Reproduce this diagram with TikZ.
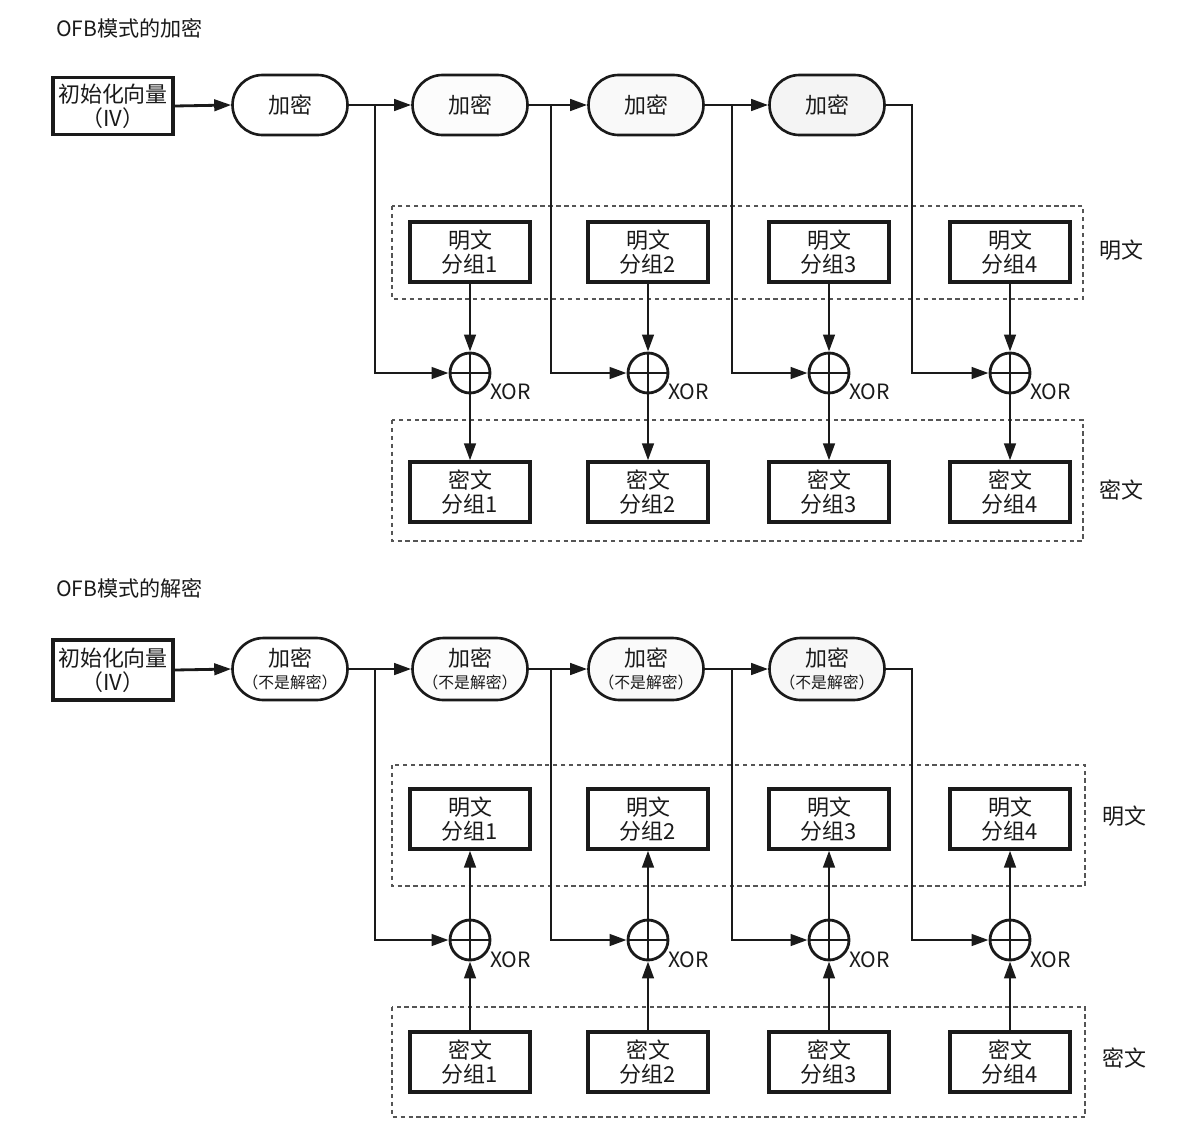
\documentclass[tikz,border=0pt]{standalone}
\usepackage{fontspec}
\setmainfont{Noto Sans CJK SC}
\usetikzlibrary{positioning,arrows.meta,shapes.misc}
\definecolor{ofbink}{HTML}{1A1A1A}
\definecolor{ofbdash}{HTML}{555555}

\begin{document}
\begin{tikzpicture}[x=0.02cm,y=-0.02cm,
  blk/.style={draw=ofbink,line width=1.8pt,fill=white,minimum width=2.4cm,minimum height=1.2cm,inner sep=0pt,align=center,font=\fontsize{12.5}{13.5}\selectfont,text=ofbink},
  enc/.style={rounded rectangle,draw=ofbink,line width=1.5pt,minimum width=2.3cm,minimum height=1.2cm,inner sep=0pt,align=center,font=\fontsize{12.5}{13.5}\selectfont,text=ofbink},
  xorc/.style={circle,draw=ofbink,line width=1.6pt,fill=white,minimum size=0.8cm,inner sep=0pt,path picture={\draw[line width=1.6pt,ofbink] (path picture bounding box.north) -- (path picture bounding box.south) (path picture bounding box.west) -- (path picture bounding box.east);}},
  wire/.style={draw=ofbink,line width=1.6pt},
  arr/.style={wire,-{Triangle[length=3.4mm,width=2.3mm]}},
  grp/.style={draw=ofbdash,line width=0.7pt,dash pattern=on 2.5pt off 2pt},
  lbl/.style={font=\fontsize{12.5}{13.5}\selectfont,text=ofbink},
  xlbl/.style={font=\fontsize{12}{13}\selectfont,text=ofbink,anchor=west},
  ttl/.style={font=\fontsize{12}{13}\selectfont,anchor=west,text=ofbink}
]
\useasboundingbox (0,0) rectangle (1195,1139);

\node[ttl] (etitle) at (50,28) {OFB模式的加密};
\draw[grp] (392,206) rectangle (1083,299);
\draw[grp] (392,420) rectangle (1083,541);
\node[lbl] (eplab) at (1121,250) {明文};
\node[lbl] (eclab) at (1121,490) {密文};
\node[blk,minimum height=1.14cm] (eiv) at (113,106) {初始化向量\\（IV）};
\foreach \i/\x/\px/\shade in {1/290/470/0,2/470/648/2,3/646/829/5,4/827/1010/9} {
  \node[enc,fill=gray!\shade] (eenc\i) at (\x,105) {加密};
  \node[blk] (ept\i) at (\px,252) {明文\\分组\i};
  \node[xorc] (exor\i) at (\px,373) {};
  \node[xlbl] at (\px+14,392) {XOR};
  \node[blk] (ect\i) at (\px,492) {密文\\分组\i};
  \draw[arr] (ept\i.south) -- (exor\i.north);
  \draw[arr] (exor\i.south) -- (ect\i.north);
}
\draw[arr] (eiv.east) -- (eenc1.west);
\foreach \i/\j/\bx in {1/2/375,2/3/551,3/4/732} {
  \coordinate (ebr\i) at (\bx,105);
  \draw[arr] (eenc\i.east) -- (eenc\j.west);
  \draw[arr] (ebr\i) |- (exor\i.west);
}
\coordinate (ebr4) at (912,105);
\draw[arr] (eenc4.east) -- (ebr4) |- (exor4.west);

\node[ttl] (dtitle) at (50,588) {OFB模式的解密};
\draw[grp] (392,765) rectangle (1085,886);
\draw[grp] (392,1007) rectangle (1085,1117);
\node[lbl] (dplab) at (1124,816) {明文};
\node[lbl] (dclab) at (1124,1058) {密文};
\node[blk] (div) at (113,670) {初始化向量\\（IV）};
\foreach \i/\x/\px/\shade in {1/290/470/0,2/470/648/2,3/646/829/4,4/827/1010/6} {
  \node[enc,fill=gray!\shade,minimum height=1.24cm] (denc\i) at (\x,669) {加密\\[-1pt]{\fontsize{9}{10}\selectfont （不是解密）}};
  \node[blk] (dpt\i) at (\px,819) {明文\\分组\i};
  \node[xorc] (dxor\i) at (\px,940) {};
  \node[xlbl] at (\px+14,960) {XOR};
  \node[blk] (dct\i) at (\px,1062) {密文\\分组\i};
  \draw[arr] (dxor\i.north) -- (dpt\i.south);
  \draw[arr] (dct\i.north) -- (dxor\i.south);
}
\draw[arr] (div.east) -- (denc1.west);
\foreach \i/\j/\bx in {1/2/375,2/3/551,3/4/732} {
  \coordinate (dbr\i) at (\bx,669);
  \draw[arr] (denc\i.east) -- (denc\j.west);
  \draw[arr] (dbr\i) |- (dxor\i.west);
}
\coordinate (dbr4) at (912,669);
\draw[arr] (denc4.east) -- (dbr4) |- (dxor4.west);
\end{tikzpicture}
\end{document}
